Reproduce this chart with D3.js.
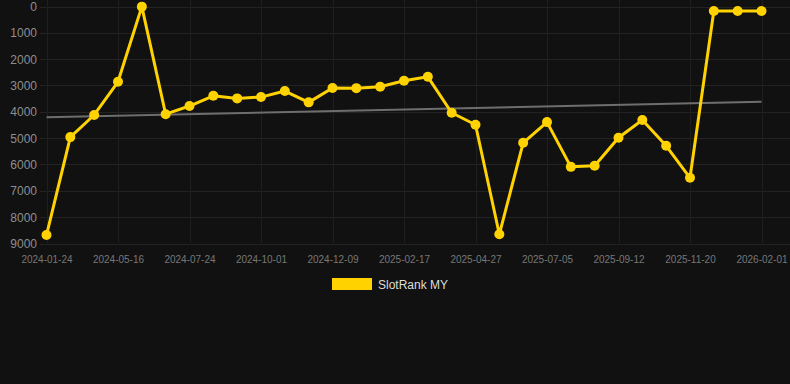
<!DOCTYPE html>
<html>
<head>
<meta charset="utf-8">
<script src="https://cdn.jsdelivr.net/npm/d3@7"></script>
<style>
  html, body { margin: 0; padding: 0; background: #111111; }
  svg { display: block; font-family: "Liberation Sans", Arial, Helvetica, sans-serif; }
</style>
</head>
<body>
<svg id="chart" width="790" height="384"></svg>
<script>
const dates = [
  "2024-01-24","2024-03-01","2024-04-08","2024-05-16","2024-06-08","2024-07-01",
  "2024-07-24","2024-08-16","2024-09-08","2024-10-01","2024-10-24","2024-11-16",
  "2024-12-09","2025-01-01","2025-01-24","2025-02-17","2025-03-12","2025-04-04",
  "2025-04-27","2025-05-20","2025-06-12","2025-07-05","2025-07-28","2025-08-20",
  "2025-09-12","2025-10-05","2025-10-28","2025-11-20","2025-12-14","2026-01-07",
  "2026-02-01"
];
const rankMY = [
  8680, 4960, 4120, 2860, 5, 4090,
  3780, 3390, 3490, 3440, 3210, 3640,
  3095, 3100, 3050, 2820, 2670, 4035,
  4490, 8650, 5175, 4390, 6090, 6050,
  4985, 4310, 5290, 6505, 170, 170,
  170
];
const trendValues = [4210, 3615];
const xTickLabels = ["2024-01-24","2024-05-16","2024-07-24","2024-10-01","2024-12-09",
  "2025-02-17","2025-04-27","2025-07-05","2025-09-12","2025-11-20","2026-02-01"];
const yTickValues = [0,1000,2000,3000,4000,5000,6000,7000,8000,9000];
const seriesName = "SlotRank MY";

const svg = d3.select("#chart");
const x = d3.scalePoint().domain(dates).range([46.5, 761.5]);
const y = d3.scaleLinear().domain([0, 9000]).range([6.5, 243.5]);

// grid
const grid = svg.append("g");
grid.selectAll("line.h").data(yTickValues).enter().append("line")
  .attr("x1", 40).attr("x2", 790)
  .attr("y1", d => Math.round(y(d)) + 0.5).attr("y2", d => Math.round(y(d)) + 0.5)
  .attr("stroke", "#232323").attr("stroke-width", 1);
grid.selectAll("line.v").data(xTickLabels).enter().append("line")
  .attr("x1", d => Math.round(x(d)) + 0.5).attr("x2", d => Math.round(x(d)) + 0.5)
  .attr("y1", 0).attr("y2", 243)
  .attr("stroke", "#1f1f1f").attr("stroke-width", 1);

// y axis
const yAxis = d3.axisLeft(y).tickValues(yTickValues).tickSize(0).tickPadding(0).tickFormat(d3.format("d"));
const gy = svg.append("g").attr("transform", "translate(37,0)").call(yAxis);
gy.select(".domain").remove();
gy.selectAll("text").attr("fill", "#8e8e8e").style("font-size", "12px");

// x axis
const xAxis = d3.axisBottom(x).tickValues(xTickLabels).tickSize(0).tickPadding(0);
const gx = svg.append("g").attr("transform", "translate(0,256)").call(xAxis);
gx.select(".domain").remove();
gx.selectAll("text").attr("fill", "#777777").style("font-size", "10px");

// trend line
svg.append("line")
  .attr("x1", x(dates[0])).attr("y1", y(trendValues[0]))
  .attr("x2", x(dates[dates.length - 1])).attr("y2", y(trendValues[1]))
  .attr("stroke", "#6e6e6e").attr("stroke-width", 2);

// series line
const data = dates.map((d, i) => ({ d, v: rankMY[i] }));
svg.append("path").datum(data)
  .attr("fill", "none").attr("stroke", "#FFD200").attr("stroke-width", 3)
  .attr("stroke-linejoin", "round")
  .attr("d", d3.line().x(p => x(p.d)).y(p => y(p.v)));
svg.selectAll("circle.pt").data(data).enter().append("circle")
  .attr("cx", p => x(p.d)).attr("cy", p => y(p.v)).attr("r", 5)
  .attr("fill", "#FFD200");

// legend
const lg = svg.append("g");
lg.append("rect").attr("x", 332).attr("y", 278).attr("width", 40).attr("height", 12).attr("fill", "#FFD200");
lg.append("text").attr("x", 378).attr("y", 289).attr("fill", "#dddddd")
  .style("font-size", "12px").text(seriesName);
</script>
</body>
</html>
